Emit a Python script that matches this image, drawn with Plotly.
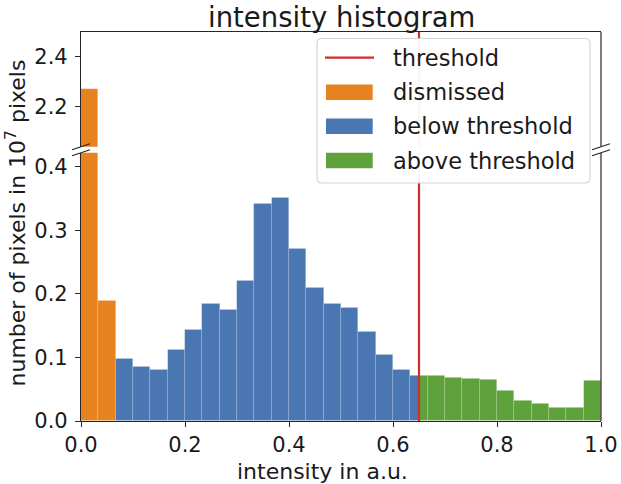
import numpy as np
import plotly.graph_objects as go

# ---------------- data ----------------
threshold = 0.65

dismissed_edges = [0.0, 1/30, 2/30]
dismissed_vals = [2.27, 0.19]

below_edges = [2/30, 3/30, 4/30, 5/30, 6/30, 7/30, 8/30, 9/30, 10/30, 11/30, 12/30,
               13/30, 14/30, 15/30, 16/30, 17/30, 18/30, 19/30, threshold]
below_vals = [0.0987, 0.0861, 0.081, 0.113, 0.1444, 0.185, 0.1754, 0.2205, 0.342,
              0.352, 0.272, 0.2106, 0.185, 0.179, 0.140, 0.105, 0.081, 0.072]

above_edges = [threshold, 20/30, 21/30, 22/30, 23/30, 24/30, 25/30, 26/30, 27/30,
               28/30, 29/30, 1.0]
above_vals = [0.072, 0.072, 0.0677, 0.067, 0.065, 0.047, 0.0315, 0.028, 0.0216,
              0.0205, 0.063]

legend_labels = ["threshold", "dismissed", "below threshold", "above threshold"]
x_ticks = [0.0, 0.2, 0.4, 0.6, 0.8, 1.0]
y_ticks_low = [0.0, 0.1, 0.2, 0.3, 0.4]
y_ticks_high = [2.2, 2.4]

# ---------------- style ----------------
C_ORANGE = "#e6821f"
C_BLUE = "#4a77b2"
C_GREEN = "#5fa23b"
C_RED = "#d02c2a"
AX = "#262626"
FONT = "DejaVu Sans"

W, H = 621, 484
L, R, T, B = 81, 20, 32, 63
PW, PH = W - L - R, H - T - B


def px(x):
    return (x - L) / PW


def py(y):
    return (H - B - y) / PH


low_dom = [0, py(152.7)]
high_dom = [py(146.7), 1]

fig = go.Figure()


def add_hist(edges, vals, color):
    e = np.array(edges, dtype=float)
    centers = (e[:-1] + e[1:]) / 2
    widths = e[1:] - e[:-1]
    for xa, ya in (("x", "y"), ("x2", "y2")):
        fig.add_trace(go.Bar(
            x=centers, y=vals, width=widths, xaxis=xa, yaxis=ya,
            marker=dict(color=color, line=dict(color="rgba(255,255,255,0.25)", width=0.6)),
            showlegend=False, hoverinfo="x+y"))


add_hist(dismissed_edges, dismissed_vals, C_ORANGE)
add_hist(below_edges, below_vals, C_BLUE)
add_hist(above_edges, above_vals, C_GREEN)

shapes = []
# threshold line in both panels
shapes.append(dict(type="line", xref="x", yref="y domain", x0=threshold, x1=threshold,
                   y0=0, y1=1, line=dict(color=C_RED, width=2.2), layer="above"))
shapes.append(dict(type="line", xref="x2", yref="y2 domain", x0=threshold, x1=threshold,
                   y0=0, y1=1, line=dict(color=C_RED, width=2.2), layer="above"))
# right spines
shapes.append(dict(type="line", xref="paper", yref="paper", x0=1, x1=1, y0=low_dom[0],
                   y1=low_dom[1], line=dict(color=AX, width=1.2), layer="above"))
shapes.append(dict(type="line", xref="paper", yref="paper", x0=1, x1=1, y0=high_dom[0],
                   y1=high_dom[1], line=dict(color=AX, width=1.2), layer="above"))
# break marks
for xc in (L, L + PW):
    for yc in (146.7, 152.7):
        shapes.append(dict(type="line", xref="paper", yref="paper",
                           x0=px(xc - 9), x1=px(xc + 9), y0=py(yc + 3), y1=py(yc - 3),
                           line=dict(color=AX, width=1.2), layer="above"))

# legend box (rounded)
bx0, by0, bx1, by1, r = 317, 38.5, 590, 183, 5
pts = [
    f"M {px(bx0 + r)} {py(by0)}",
    f"L {px(bx1 - r)} {py(by0)}",
    f"Q {px(bx1)} {py(by0)} {px(bx1)} {py(by0 + r)}",
    f"L {px(bx1)} {py(by1 - r)}",
    f"Q {px(bx1)} {py(by1)} {px(bx1 - r)} {py(by1)}",
    f"L {px(bx0 + r)} {py(by1)}",
    f"Q {px(bx0)} {py(by1)} {px(bx0)} {py(by1 - r)}",
    f"L {px(bx0)} {py(by0 + r)}",
    f"Q {px(bx0)} {py(by0)} {px(bx0 + r)} {py(by0)} Z",
]
shapes.append(dict(type="path", xref="paper", yref="paper", path=" ".join(pts),
                   fillcolor="rgba(255,255,255,0.95)", line=dict(color="#d4d4d4", width=1.2),
                   layer="above"))
rows = [57.7, 92.2, 126.2, 160.5]
shapes.append(dict(type="line", xref="paper", yref="paper", x0=px(325), x1=px(374),
                   y0=py(rows[0]), y1=py(rows[0]), line=dict(color=C_RED, width=2.2),
                   layer="above"))
for yc, col in zip(rows[1:], [C_ORANGE, C_BLUE, C_GREEN]):
    shapes.append(dict(type="rect", xref="paper", yref="paper", x0=px(326), x1=px(372.7),
                       y0=py(yc + 7.8), y1=py(yc - 7.8), fillcolor=col, line=dict(width=0),
                       layer="above"))

annotations = []
for yc, lab in zip(rows, legend_labels):
    annotations.append(dict(text=lab, xref="paper", yref="paper", x=px(391), y=py(yc),
                            xanchor="left", yanchor="middle", showarrow=False,
                            font=dict(family=FONT, size=22.5, color="#1a1a1a")))
annotations.append(dict(text="number of pixels in 10<sup>7</sup> pixels", xref="paper",
                        yref="paper", x=px(15), y=py(223.5), textangle=-90,
                        xanchor="center", yanchor="middle", showarrow=False,
                        font=dict(family=FONT, size=22, color="#1a1a1a")))
annotations.append(dict(text="intensity histogram", xref="paper", yref="paper",
                        x=0.5, y=py(16.5), xanchor="center", yanchor="middle",
                        showarrow=False, font=dict(family=FONT, size=27.5, color="#1a1a1a")))
annotations.append(dict(text="intensity in a.u.", xref="paper", yref="paper",
                        x=px(322), y=py(471), xanchor="center", yanchor="middle",
                        showarrow=False, font=dict(family=FONT, size=22, color="#1a1a1a")))

tickfont = dict(family=FONT, size=21, color="#1a1a1a")

fig.update_layout(
    width=W, height=H, margin=dict(l=L, r=R, t=T, b=B, autoexpand=False),
    paper_bgcolor="white", plot_bgcolor="white",
    bargap=0, barmode="overlay", showlegend=False,
    shapes=shapes, annotations=annotations,
    xaxis=dict(domain=[0, 1], range=[0, 1], anchor="y", tickvals=x_ticks,
               ticktext=[f"{v:.1f}" for v in x_ticks], ticks="outside", ticklen=5,
               tickwidth=1.2, tickcolor=AX, showline=True, linecolor=AX, linewidth=1.2,
               showgrid=False, zeroline=False, tickfont=tickfont, automargin=False),
    xaxis2=dict(domain=[0, 1], range=[0, 1], anchor="y2", matches="x", side="top",
                showticklabels=False, ticks="", showline=True, linecolor=AX, linewidth=1.2,
                showgrid=False, zeroline=False, automargin=False),
    yaxis=dict(domain=low_dom, range=[0, 0.4225], anchor="x", tickvals=y_ticks_low,
               ticktext=[f"{v:.1f}" for v in y_ticks_low], ticks="outside", ticklen=5,
               tickwidth=1.2, tickcolor=AX, showline=True, linecolor=AX, linewidth=1.2,
               showgrid=False, zeroline=False, tickfont=tickfont, ticklabelstandoff=3,
               automargin=False),
    yaxis2=dict(domain=high_dom, range=[2.037, 2.5], anchor="x2", tickvals=y_ticks_high,
                ticktext=[f"{v:.1f}" for v in y_ticks_high], ticks="outside", ticklen=5,
                tickwidth=1.2, tickcolor=AX, showline=True, linecolor=AX, linewidth=1.2,
                showgrid=False, zeroline=False, tickfont=tickfont, ticklabelstandoff=3,
                automargin=False),
)

fig.write_html("out.html")
